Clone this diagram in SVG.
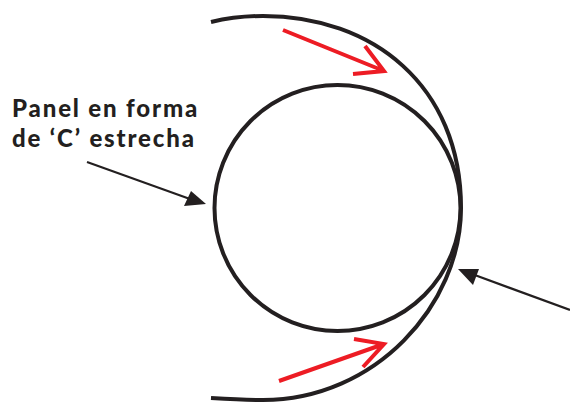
<svg xmlns="http://www.w3.org/2000/svg" width="570" height="402" viewBox="0 0 570 402">
<style>
.ring{fill:none;stroke:#231f20;stroke-width:4}
.blk{fill:none;stroke:#231f20;stroke-width:2.2}
.tip{fill:#231f20}
.red{fill:none;stroke:#ed1c24;stroke-width:4}
text{font-family:"Lato","Liberation Sans",sans-serif;font-weight:900;font-size:24px;letter-spacing:1.85px;fill:#231f20}
</style>
<rect width="570" height="402" fill="#fff"/>
<g id="panel-inner"><circle class="ring" cx="337.500" cy="208" r="123"/></g>
<g id="panel-outer"><path class="ring" d="M211 22 C228 18 245 16 263 16 C372 16 461 85 461 208 C461 305 375 400 263 400 C245 400 228 399 211 398"/></g>
<g id="label"><text x="12" y="116.500">Panel en forma</text><text x="12" y="146.500">de ‘C’ estrecha</text></g>
<g id="connectors">
<path class="blk" d="M87 162 L190 199"/>
<path class="tip" d="M206 204 L184 206 L191 191 Z"/>
<path class="blk" d="M570 310 L472 274"/>
<path class="tip" d="M458 269 L479 269 L473 285 Z"/>
<path class="red" d="M283 30 L384 71 M365 46 L384 71 L353 74"/>
<path class="red" d="M279 381 L384 344 M354 339 L384 344 L363 367"/>
</g>
</svg>
